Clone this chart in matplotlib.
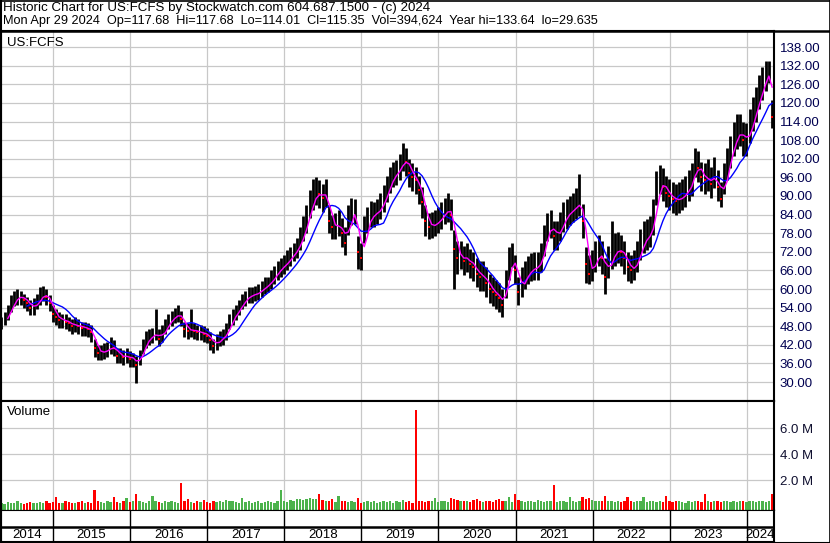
import numpy as np
import pandas as pd
import matplotlib
matplotlib.use('Agg')
import matplotlib.pyplot as plt
from matplotlib.lines import Line2D

plt.rcParams['font.family'] = ['Liberation Sans', 'DejaVu Sans']

# half-monthly bars, May 2014 .. Apr 29 2024
close = [
    49, 50.5, 52, 55, 57, 57.5, 57.5, 56.5, 55.5, 54, 54, 56,
    57.5, 58.5, 57.5, 55.5, 52, 51, 50, 50, 49.5, 49, 48, 48.5,
    48, 47.5, 47.5, 47, 46, 41, 39.5, 39.5, 40, 40.5, 41.5, 41,
    38.5, 38.5, 38, 38.5, 37.5, 37.5, 35.5, 38, 41.5, 43.5, 44.5, 45,
    46, 44, 45.5, 48, 49.5, 50.5, 51.5, 52, 50.5, 47, 46.5, 47,
    46.5, 46, 46, 45.5, 45, 43.5, 41.5, 43, 44, 44.5, 46, 49.5,
    51, 52.5, 54, 56, 57, 58, 58, 58.5, 59, 60, 61, 61.5,
    63, 64.5, 66, 67, 68, 69, 70.5, 72, 73, 76, 79, 82,
    87, 89.5, 91, 90.5, 89.5, 91, 82, 80, 80, 81, 78, 75,
    82, 85, 85, 72, 70, 79, 82, 84, 84, 85, 86.5, 89,
    92, 95, 97, 97.5, 99, 102.5, 101, 97.5, 96, 95, 92, 88,
    82, 80, 80.5, 81, 82, 83.5, 85, 86, 84, 73, 70, 71,
    69, 70, 68, 67, 65, 64, 64, 62, 60, 59, 58, 57,
    55, 61, 68, 71, 66, 59, 62, 64, 65.5, 66.5, 67, 67,
    70, 75, 80, 81, 77, 77, 80, 83, 84, 85, 86, 87,
    88, 82, 68, 65, 67, 70, 72, 70, 64, 68, 71, 72,
    73, 72, 70, 67, 66, 67, 70, 74, 76, 77, 78, 83,
    92, 95, 93, 91, 90, 89, 88.5, 89, 90, 91, 93, 95,
    101, 99, 96, 95, 96, 94, 97, 93, 89, 95, 100, 104,
    108, 110, 111, 108, 108, 112, 116, 119, 123, 126, 129, 131, 115.35,
]
high = [
    51, 52.5, 55, 58, 59.5, 60, 59.5, 58.5, 57.5, 56.5, 57, 58.5,
    60.5, 61, 60, 58, 55, 53.5, 52.5, 52, 52, 51, 50.5, 51,
    50.5, 49.5, 49.5, 49, 48.5, 44, 42, 42, 42.5, 43, 44.5, 43.5,
    41, 41, 40.5, 41, 40, 39.5, 38.5, 40.5, 44, 46.5, 47, 47.5,
    53.5, 47, 48.5, 50.5, 52, 53, 54, 55, 53, 49.5, 49, 53.5,
    49, 48.5, 48.5, 48, 47.5, 46, 44, 45.5, 46.5, 47, 49, 52,
    53.5, 55, 56.5, 58.5, 59.5, 60.5, 60.5, 61, 61.5, 62.5, 64, 64,
    66, 67.5, 69, 70, 71, 72.5, 73.5, 75, 76.5, 80, 83.5, 87,
    92, 95.5, 96, 95, 94, 95.5, 87, 84, 84.5, 85.5, 83, 80,
    87, 89.5, 89, 77, 75, 83.5, 86.5, 88.5, 88, 89, 91, 93.5,
    96.5, 99.5, 101, 101.5, 103.5, 107, 105.5, 102, 100.5, 99.5, 96.5, 93,
    87, 84.5, 85, 85.5, 86.5, 88, 89.5, 91, 89, 79, 75.5, 75.5,
    74, 75, 73, 72, 70, 69, 69, 67, 65, 64, 63, 62,
    60, 66, 73.5, 75, 71, 64, 67, 69, 70.5, 71.5, 72, 72,
    75, 80.5, 84.5, 85.5, 82, 82, 85, 88, 89, 90, 91, 92.5,
    97, 87.5, 73.5, 71, 72.5, 75.5, 77.5, 75.5, 70, 74, 82, 78,
    78.5, 77.5, 75.5, 72, 71, 72.5, 75.5, 79.5, 82, 82.5, 83.5, 89,
    98, 100, 99, 96.5, 95.5, 94.5, 94, 94.5, 95.5, 96.5, 98.5, 100.5,
    105.5, 104.5, 101, 100.5, 102, 99.5, 102.5, 98.5, 94.5, 100.5, 105.5, 109.5,
    114, 116.5, 116.5, 114, 113.5, 118, 122, 125, 129, 131.5, 133.5, 133.6, 121,
]
low = [
    47, 48.5, 50, 52.5, 54.5, 55, 55, 54, 53, 51.5, 51.5, 53.5,
    55, 56, 55, 53, 49.5, 48.5, 47.5, 47.5, 47, 46.5, 45.5, 46,
    45.5, 45, 45, 44.5, 43, 38, 37, 37, 37.5, 38, 39, 38.5,
    36, 36, 35.5, 36, 35, 35, 29.6, 35.5, 39, 41, 42, 42.5,
    43.5, 41.5, 43, 45.5, 47, 48, 49, 49.5, 48, 44.5, 44, 44.5,
    44, 43.5, 43.5, 43, 42.5, 40.5, 39.4, 40.5, 41.5, 42, 43.5, 47,
    48.5, 50, 51.5, 53.5, 54.5, 55.5, 55.5, 56, 56.5, 57.5, 58.5, 59,
    60, 61.5, 63, 64, 65, 66, 67.5, 69, 70, 72.5, 75.5, 78,
    83, 85.5, 87, 86, 85, 86.5, 78, 76, 76, 77, 73.5, 71,
    77.5, 80.5, 81, 66.5, 66, 75, 78, 80, 80, 81, 82.5, 85,
    88, 91, 93, 93.5, 95, 98, 96.5, 93, 91.5, 90.5, 87.5, 83,
    77, 76, 76.5, 77, 78, 79.5, 81, 81.5, 79, 60, 65, 66.5,
    64.5, 65.5, 63.5, 62.5, 60.5, 59.5, 59.5, 57.5, 55.5, 54.5, 53.5, 52.5,
    51, 57, 63, 67, 61.5, 55, 57.5, 60, 61.5, 62.5, 63, 63,
    65.5, 70.5, 75.5, 76.5, 72.5, 72.5, 75.5, 78.5, 79.5, 80.5, 81.5, 82.5,
    83.5, 76.5, 62, 61.7, 62.5, 65.5, 67.5, 65, 58.5, 63.5, 66.5, 67.5,
    68.5, 67.5, 65, 62.5, 62, 63, 65.5, 69.5, 71.5, 72.5, 73.5, 77.5,
    87, 90.5, 88.5, 86.5, 85.5, 84.5, 84, 84.5, 85.5, 86.5, 88.5, 90,
    96, 94.5, 91.5, 90.5, 91.5, 89.5, 92.5, 88.5, 86.5, 90.5, 95, 99,
    103, 105, 106, 103, 103, 107, 111, 114, 118, 121, 124, 126.5, 112,
]
# volume in millions of shares
volume = [
    0.2, 0.15, 0.3, 0.25, 0.2, 0.35, 0.2, 0.15, 0.25, 0.3, 0.2, 0.25,
    0.3, 0.2, 0.35, 0.25, 0.3, 0.7, 0.25, 0.2, 0.35, 0.3, 0.2, 0.25,
    0.3, 0.35, 0.2, 0.3, 0.25, 1.2, 0.4, 0.3, 0.25, 0.35, 0.3, 0.7,
    0.3, 0.25, 0.35, 0.6, 0.3, 0.4, 0.9, 0.35, 0.3, 0.25, 0.4, 0.8,
    0.35, 0.3, 0.25, 0.4, 0.3, 0.35, 0.3, 0.25, 1.8, 0.4, 0.55, 0.3,
    0.25, 0.35, 0.3, 0.45, 0.3, 0.25, 0.4, 0.3, 0.35, 0.3, 0.45, 0.4,
    0.35, 0.3, 0.25, 0.6, 0.3, 0.35, 0.25, 0.3, 0.4, 0.25, 0.3, 0.35,
    0.3, 0.25, 0.4, 1.2, 0.35, 0.3, 0.45, 0.4, 0.5, 0.55, 0.45, 0.5,
    0.6, 0.5, 0.55, 0.9, 0.45, 0.4, 0.35, 0.5, 0.3, 0.8, 0.4, 0.35,
    0.3, 0.35, 0.3, 0.6, 0.25, 0.3, 0.35, 0.3, 0.4, 0.25, 0.3, 0.35,
    0.3, 0.4, 0.25, 0.35, 0.3, 0.45, 0.3, 0.35, 0.25, 7.4, 0.4, 0.35,
    0.3, 0.4, 0.35, 0.6, 0.3, 0.4, 0.35, 0.3, 0.65, 0.5, 0.45, 0.4,
    0.35, 0.4, 0.3, 0.45, 0.5, 0.35, 0.3, 0.4, 0.35, 0.3, 0.45, 0.5,
    0.4, 0.35, 0.7, 0.3, 0.9, 0.45, 0.35, 0.3, 0.4, 0.35, 0.3, 0.45,
    0.35, 0.3, 0.4, 0.35, 1.6, 0.3, 0.35, 0.4, 0.3, 0.7, 0.35, 0.3,
    0.4, 0.7, 0.5, 0.6, 0.45, 0.4, 0.35, 0.4, 0.8, 0.35, 0.4, 0.3,
    0.35, 0.3, 0.4, 0.7, 0.35, 0.3, 0.4, 0.35, 0.7, 0.3, 0.35, 0.4,
    0.3, 0.35, 0.3, 0.8, 0.35, 0.3, 0.4, 0.35, 0.3, 0.25, 0.35, 0.3,
    0.4, 0.35, 0.3, 0.9, 0.35, 0.3, 0.4, 0.35, 0.3, 0.4, 0.35, 0.3,
    0.35, 0.3, 0.4, 0.35, 0.3, 0.4, 0.35, 0.3, 0.35, 0.4, 0.3, 0.4, 0.9,
]

price_ticks = [30, 36, 42, 48, 54, 60, 66, 72, 78, 84, 90, 96,
               102, 108, 114, 120, 126, 132, 138]
vol_ticks = [2.0, 4.0, 6.0]
years = list(range(2014, 2025))

header1 = "Historic Chart for US:FCFS by Stockwatch.com 604.687.1500 - (c) 2024"
header2 = ("Mon Apr 29 2024  Op=117.68  Hi=117.68  Lo=114.01  Cl=115.35  "
           "Vol=394,624  Year hi=133.64  lo=29.635")

close = np.array(close)
high = np.array(high)
low = np.array(low)
volume = np.array(volume)
dates = pd.date_range('2014-05-02', '2024-04-29', periods=len(close))
ma_fast = pd.Series(close).rolling(3).mean()
ma_slow = pd.Series(close).rolling(9).mean()
down = np.r_[False, close[1:] < close[:-1]]

W, H = 830, 543
def box(x0, y0, x1, y1):
    return [x0 / W, 1 - y1 / H, (x1 - x0) / W, (y1 - y0) / H]

fig = plt.figure(figsize=(W / 100, H / 100), dpi=100)
xlim = (pd.Timestamp('2014-04-30'), pd.Timestamp('2024-05-08'))
year_starts = [pd.Timestamp(f'{y}-01-01') for y in years[1:]]
grid_c = '#c8c8c8'

# price panel
ax = fig.add_axes(box(1, 31, 774, 401))
ax.vlines(dates, low, high, color='black', lw=2.0)
ax.plot(dates[down], close[down], 's', color='red', ms=1.8, mew=0)
ax.plot(dates, ma_slow, color='#0000ff', lw=1.0)
ax.plot(dates, ma_fast, color='#ff00ff', lw=1.0)
ax.set_xlim(xlim)
ax.set_ylim(23.9, 143.2)
ax.set_xticks(year_starts)
ax.set_yticks(price_ticks)
ax.set_yticklabels([f'{v:.2f}' for v in price_ticks])
ax.yaxis.tick_right()
ax.tick_params(axis='y', length=0, pad=4, labelsize=9.5, labelcolor='#000050')
ax.tick_params(axis='x', length=0, labelbottom=False)
ax.grid(color=grid_c, lw=0.9)
ax.set_axisbelow(True)
for s in ax.spines.values():
    s.set_linewidth(1.5)
ax.text(0.008, 0.985, 'US:FCFS', transform=ax.transAxes, fontsize=9.5,
        va='top', ha='left')

# volume panel
vax = fig.add_axes(box(1, 401, 774, 509.5))
vbot = -0.27
vcol = np.where(down, '#ff0000', '#4cb34c')
vax.bar(dates, volume - vbot, bottom=vbot, width=11, color=vcol, lw=0)
vax.set_xlim(xlim)
vax.set_ylim(vbot, 8.08)
vax.set_xticks(year_starts)
vax.set_yticks(vol_ticks)
vax.set_yticklabels([f'{v:.1f} M' for v in vol_ticks])
vax.yaxis.tick_right()
vax.tick_params(axis='y', length=0, pad=4, labelsize=9.5, labelcolor='#101030')
vax.tick_params(axis='x', length=0, labelbottom=False)
vax.grid(color=grid_c, lw=0.9)
vax.set_axisbelow(True)
for s in vax.spines.values():
    s.set_linewidth(1.5)
vax.spines['bottom'].set_linewidth(0.8)
vax.text(0.008, 0.95, 'Volume', transform=vax.transAxes, fontsize=9.5,
         va='top', ha='left')

# year strip
yax = fig.add_axes(box(1, 509.5, 774, 541.5))
yax.set_xlim(xlim)
yax.set_ylim(0, 2)
yax.vlines(year_starts, 0, 2, color='black', lw=1.0)
yax.axhline(0.92, color='black', lw=1.8)
edges = [xlim[0]] + year_starts + [xlim[1]]
for y, a, b in zip(years, edges[:-1], edges[1:]):
    yax.text(a + (b - a) / 2, 0.42, str(y), ha='center', va='center', fontsize=9.5)
yax.set_xticks([])
yax.set_yticks([])
for s in yax.spines.values():
    s.set_linewidth(1.5)
yax.spines['top'].set_linewidth(0.8)

# header and outer frame
fig.text(3 / W, 1 - 8 / H, header1, fontsize=9.6, va='center', ha='left')
fig.text(3 / W, 1 - 21 / H, header2, fontsize=9.2, va='center', ha='left')
frame = dict(color='black', transform=fig.transFigure)
fig.add_artist(Line2D([0, 1], [1 - 31 / H] * 2, lw=1.8, **frame))
fig.add_artist(Line2D([0, 1], [1 - 0.5 / H] * 2, lw=1.2, **frame))
fig.add_artist(Line2D([0, 1], [0.5 / H] * 2, lw=1.5, **frame))
fig.add_artist(Line2D([0.5 / W] * 2, [0, 1], lw=1.5, **frame))
fig.add_artist(Line2D([1 - 0.5 / W] * 2, [0, 1], lw=1.2, **frame))

fig.savefig('out.png', dpi=100)
